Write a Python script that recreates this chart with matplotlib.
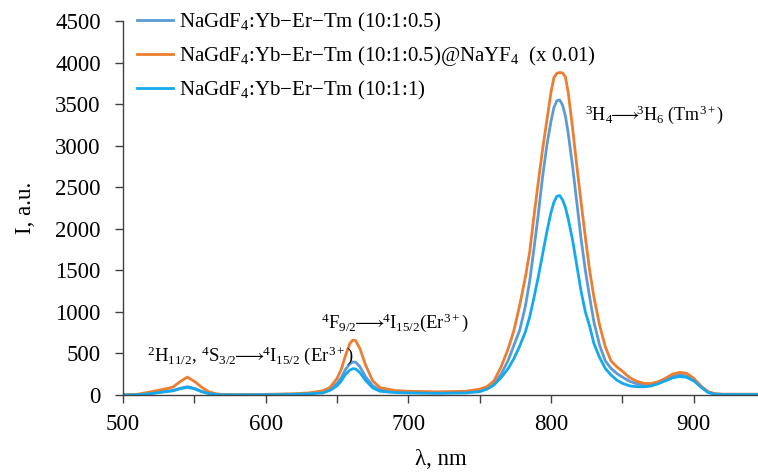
import matplotlib
matplotlib.use('Agg')
import matplotlib.pyplot as plt
from matplotlib.ticker import MultipleLocator

plt.rcParams['font.family'] = ['Liberation Serif', 'DejaVu Serif']
plt.rcParams['mathtext.fontset'] = 'custom'
plt.rcParams['mathtext.rm'] = 'Liberation Serif'
plt.rcParams['mathtext.it'] = 'Liberation Serif:italic'
plt.rcParams['mathtext.fallback'] = 'stix'

# wavelength grid, nm
wl = [500, 510, 520, 530, 535, 540, 545, 550, 555, 560, 565, 570, 580, 600,
      620, 630, 640, 645, 650, 653, 656, 659, 661, 663, 666, 670, 675, 680,
      690, 700, 720, 740, 750,
      755, 760, 765, 770, 774, 778, 782, 785, 788, 791, 794, 797, 800, 802,
      804, 806, 808, 810, 812, 815, 818, 821, 824, 827, 830, 834, 838, 842,
      846, 850, 855, 860, 865, 870,
      875, 880, 885, 890, 895, 900, 905, 910, 915, 920, 945]

# NaGdF4:Yb-Er-Tm (10:1:0.5)
i_core = [0, 3, 20, 45, 55, 80, 100, 80, 45, 20, 8, 3, 2, 5,
          10, 18, 35, 70, 140, 210, 310, 375, 398, 395, 340, 220, 110, 60,
          40, 35, 30, 35, 55,
          80, 130, 250, 420, 600, 780, 1070, 1370, 1760, 2170, 2620, 3000, 3300, 3460,
          3540, 3550, 3490, 3360, 3150, 2760, 2320, 1880, 1500, 1180, 880, 600, 410, 320,
          260, 215, 165, 135, 120, 122,
          145, 180, 220, 240, 230, 180, 100, 35, 12, 8, 8]

# NaGdF4:Yb-Er-Tm (10:1:0.5)@NaYF4, x0.01
i_shell = [0, 8, 40, 75, 95, 160, 215, 165, 95, 40, 15, 5, 2, 8,
           15, 25, 50, 90, 200, 310, 480, 620, 660, 655, 560, 360, 170, 90,
           55, 45, 38, 45, 70,
           100, 170, 340, 560, 780, 1080, 1420, 1720, 2150, 2560, 2950, 3300, 3650, 3820,
           3870, 3880, 3875, 3830, 3640, 3220, 2760, 2320, 1900, 1500, 1180, 840, 580, 410,
           340, 285, 210, 165, 140, 138,
           160, 200, 250, 272, 262, 200, 110, 40, 15, 10, 10]

# NaGdF4:Yb-Er-Tm (10:1:1)
i_core2 = [0, 2, 18, 40, 50, 75, 92, 75, 40, 18, 7, 2, 1, 4,
           8, 14, 25, 55, 110, 170, 250, 300, 316, 314, 270, 175, 85, 45,
           30, 25, 20, 25, 40,
           70, 120, 210, 320, 440, 590, 760, 940, 1170, 1420, 1690, 1960, 2200, 2320,
           2390, 2400, 2350, 2260, 2120, 1870, 1560, 1250, 1000, 830, 620, 450, 320, 240,
           180, 140, 110, 100, 98, 108,
           135, 170, 205, 222, 212, 170, 95, 30, 10, 6, 6]

labels = ['NaGdF$_{4}$:Yb\u2212Er\u2212Tm (10:1:0.5)',
          'NaGdF$_{4}$:Yb\u2212Er\u2212Tm (10:1:0.5)@NaYF$_{4}$  (x 0.01)',
          'NaGdF$_{4}$:Yb\u2212Er\u2212Tm (10:1:1)']
colors = ['#5B9BD5', '#ED7D31', '#14A9EE']

fig = plt.figure(figsize=(7.58, 4.72), dpi=100)
ax = fig.add_axes([123 / 758, 77 / 472, 635 / 758, 374 / 472])

for y, lab, c in zip([i_core, i_shell, i_core2], labels, colors):
    ax.plot(wl, y, color=c, lw=2.0, label=lab, solid_joinstyle='round')

ax.set_xlim(500, 945)
ax.set_ylim(0, 4500)
ax.xaxis.set_major_locator(MultipleLocator(100))
ax.xaxis.set_minor_locator(MultipleLocator(50))
ax.yaxis.set_major_locator(MultipleLocator(500))
ax.tick_params(axis='both', which='both', direction='out', length=6, width=1,
               labelsize=16.5, color='#404040')
ax.tick_params(axis='x', pad=8)
ax.tick_params(axis='y', pad=10)
for s in ['top', 'right']:
    ax.spines[s].set_visible(False)
for s in ['left', 'bottom']:
    ax.spines[s].set_color('#404040')
    ax.spines[s].set_linewidth(1)

ax.set_xlabel('\u03bb, nm', fontsize=16.5, labelpad=10)
ax.set_ylabel('I, a.u.', fontsize=16.5, labelpad=14)

arr = r'$\!\!\longrightarrow\!\!$'
ax.text(517, 476, r'$\mathrm{^{2}H_{11/2}}$, $\mathrm{^{4}S_{3/2}}$' + arr + r'$\mathrm{^{4}I_{15/2}}$ (Er$^{3+}$)',
        fontsize=13.5, va='center', ha='left')
ax.text(639, 869, r'$\mathrm{^{4}F_{9/2}}$' + arr + r'$\mathrm{^{4}I_{15/2}}$(Er$^{3+}$)',
        fontsize=13.5, va='center', ha='left')
ax.text(824, 3369, r'$\mathrm{^{3}H_{4}}$' + arr + r'$\mathrm{^{3}H_{6}}$ (Tm$^{3+}$)',
        fontsize=13, va='center', ha='left')

ax.legend(loc='upper left', bbox_to_anchor=(137 / 758, 1 - 11 / 472),
          bbox_transform=fig.transFigure, frameon=False, borderpad=0,
          borderaxespad=0, fontsize=15, handlelength=1.75, handletextpad=0.25,
          labelspacing=0.5)

fig.savefig('out.png', dpi=100)
